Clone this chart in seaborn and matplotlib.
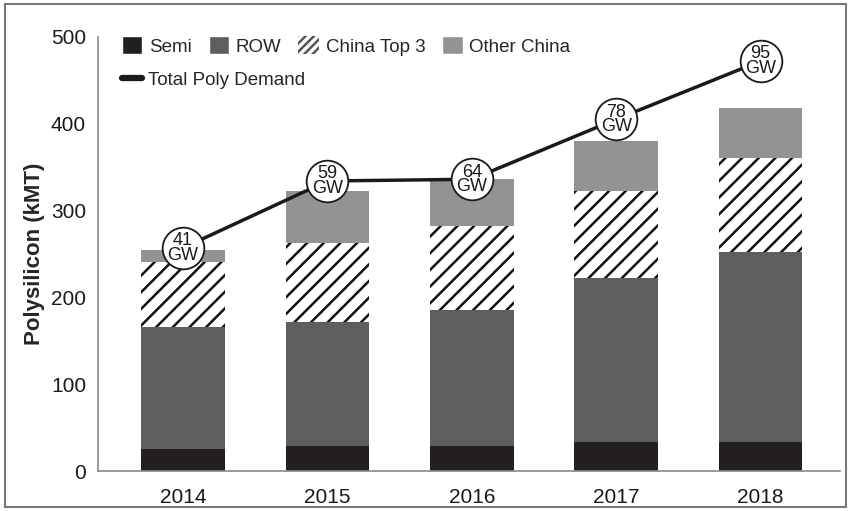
import matplotlib
matplotlib.use("Agg")
import matplotlib.pyplot as plt
import matplotlib.patches as mpatches
from matplotlib.lines import Line2D
import numpy as np
import pandas as pd
import seaborn as sns

years = ["2014", "2015", "2016", "2017", "2018"]
semi = [25, 29, 29, 33, 33]
row = [141, 143, 157, 189, 219]
china_top3 = [75, 91, 96, 101, 109]
other_china = [14, 60, 54, 57, 57]
total_demand = [257, 334, 336, 405, 472]
gw_labels = ["41\nGW", "59\nGW", "64\nGW", "78\nGW", "95\nGW"]

sns.set_theme(style="white")
plt.rcParams["font.family"] = ["Liberation Sans", "DejaVu Sans"]
plt.rcParams["hatch.linewidth"] = 1.8

fig = plt.figure(figsize=(8.51, 5.11), dpi=100)
ax = fig.add_axes([0.115, 0.078, 0.872, 0.85])

df = pd.DataFrame({"year": years, "semi": semi, "row": row,
                   "china": china_top3, "other": other_china})
b1 = np.array(semi)
b2 = b1 + np.array(row)
b3 = b2 + np.array(china_top3)

w = 0.58
sns.barplot(data=df, x="year", y="semi", color="#231f20", width=w, ax=ax,
            saturation=1, linewidth=0)
sns.barplot(data=df, x="year", y="row", bottom=b1, color="#5e5e60", width=w,
            ax=ax, saturation=1, linewidth=0)
sns.barplot(data=df, x="year", y="china", bottom=b2, color="white", width=w,
            ax=ax, saturation=1, hatch="//", edgecolor="#111111", linewidth=0)
sns.barplot(data=df, x="year", y="other", bottom=b3, color="#939395", width=w,
            ax=ax, saturation=1, linewidth=0)

xs = np.arange(len(years))
line_df = pd.DataFrame({"x": xs, "total": total_demand})
sns.lineplot(data=line_df, x="x", y="total", color="#1a1a1a", linewidth=2.5,
             ax=ax, zorder=5)
ax.scatter(xs, total_demand, s=900, facecolor="white", edgecolor="#1a1a1a",
           linewidth=1.3, zorder=6, clip_on=False)
for x, y, t in zip(xs, total_demand, gw_labels):
    ax.text(x, y, t, ha="center", va="center", fontsize=13,
            linespacing=0.8, color="#1a1a1a", zorder=7)

ax.set_xlim(-0.59, 4.55)
ax.set_ylim(0, 500)
ax.set_yticks([0, 100, 200, 300, 400, 500])
ax.set_xticks(xs)
ax.set_xticklabels(years)
ax.set_xlabel("")
ax.set_ylabel("Polysilicon (kMT)", fontsize=16, fontweight="bold", labelpad=4)
ax.tick_params(axis="both", labelsize=15, colors="#888888", labelcolor="#1a1a1a",
               length=5, width=1, direction="out")
ax.tick_params(axis="x", pad=7)
for s in ["top", "right"]:
    ax.spines[s].set_visible(False)
for s in ["left", "bottom"]:
    ax.spines[s].set_color("#888888")
    ax.spines[s].set_linewidth(1.2)

handles1 = [
    mpatches.Patch(facecolor="#231f20", label="Semi"),
    mpatches.Patch(facecolor="#5e5e60", label="ROW"),
    mpatches.Patch(facecolor="white", hatch="////", edgecolor="#555555", linewidth=0, label="China Top 3"),
    mpatches.Patch(facecolor="#939395", label="Other China"),
]
leg1 = ax.legend(handles=handles1, ncol=4, loc="upper left", bbox_to_anchor=(0.022, 1.018),
                 frameon=False, fontsize=13.5, handlelength=1.1, handleheight=1.1,
                 handletextpad=0.35, columnspacing=0.9, borderaxespad=0)
ax.add_artist(leg1)
handles2 = [Line2D([0], [0], color="#1a1a1a", lw=4.5, solid_capstyle="round",
                   label="Total Poly Demand")]
ax.legend(handles=handles2, loc="upper left", bbox_to_anchor=(0.022, 0.937),
          frameon=False, fontsize=13.5, handlelength=1.1, handletextpad=0.3,
          borderaxespad=0)

fig.patches.append(mpatches.Rectangle((0.006, 0.008), 0.988, 0.984, transform=fig.transFigure,
                                      fill=False, edgecolor="#777777", linewidth=1.5))

fig.savefig("out.png", dpi=100)
